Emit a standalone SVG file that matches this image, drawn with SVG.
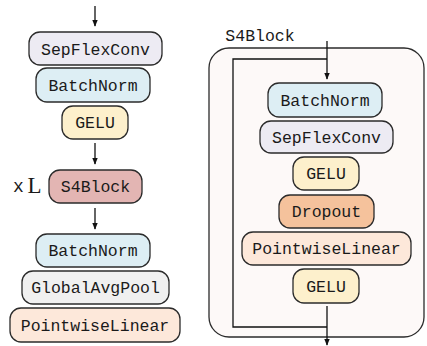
<svg xmlns="http://www.w3.org/2000/svg" width="427" height="346" viewBox="0 0 427 346">
<style>
.n rect{stroke:#2b2b2b;stroke-width:1.3}
text{font-family:"Liberation Mono","DejaVu Sans Mono",monospace;font-size:16.5px;fill:#1a1a1a;text-anchor:middle}
.c{fill:none;stroke:#111;stroke-width:1.3}
.sep{fill:#EDEBF3}.bn{fill:#DDEEF4}.gelu{fill:#FDF0CC}.s4{fill:#E3B5B3}.gap{fill:#F0F0F0}.pl{fill:#FDE8DA}.drop{fill:#F5C29C}
</style>
<defs>
<marker id="ah" viewBox="0 0 10 10" refX="9" refY="5" markerWidth="7" markerHeight="7" orient="auto" markerUnits="userSpaceOnUse">
<path d="M0,1 L10,5 L0,9 Z" fill="#111"/>
</marker>
</defs>
<g id="s4block-container">
<rect x="209" y="48" width="215" height="289" rx="20" fill="#FDF9F8" stroke="#2b2b2b" stroke-width="1.3"/>
<text x="260" y="41">S4Block</text>
</g>
<g id="connectors">
<line class="c" x1="95" y1="6" x2="95" y2="26" marker-end="url(#ah)"/>
<line class="c" x1="95" y1="143" x2="95" y2="164" marker-end="url(#ah)"/>
<line class="c" x1="95" y1="208" x2="95" y2="229" marker-end="url(#ah)"/>
<line class="c" x1="327" y1="41" x2="327" y2="79" marker-end="url(#ah)"/>
<polyline class="c" points="327,59 233,59 233,327 327,327"/>
<line class="c" x1="327" y1="306" x2="327" y2="345" marker-end="url(#ah)"/>
</g>
<g id="n-sepflexconv" class="n"><rect class="sep" x="29" y="32" width="133" height="33" rx="11"/><text x="95.5" y="54.5">SepFlexConv</text></g>
<g id="n-batchnorm1" class="n"><rect class="bn" x="36" y="68" width="114" height="34" rx="11"/><text x="93" y="90.5">BatchNorm</text></g>
<g id="n-gelu1" class="n"><rect class="gelu" x="62" y="106" width="66" height="33" rx="11"/><text x="95" y="128">GELU</text></g>
<g id="n-s4block" class="n"><rect class="s4" x="49" y="170" width="93" height="33" rx="11"/><text x="95.5" y="192">S4Block</text></g>
<g id="label-xL"><text x="18.5" y="192" style="font-size:18px">x</text><text x="34.5" y="193" style="font-family:'Liberation Serif','DejaVu Serif',serif;font-size:23px">L</text></g>
<g id="n-batchnorm2" class="n"><rect class="bn" x="36" y="234" width="114" height="33" rx="11"/><text x="93" y="256">BatchNorm</text></g>
<g id="n-globalavgpool" class="n"><rect class="gap" x="22" y="271" width="147" height="33" rx="11"/><text x="95.5" y="293">GlobalAvgPool</text></g>
<g id="n-pointwiselinear1" class="n"><rect class="pl" x="10" y="308" width="170" height="34" rx="11"/><text x="95" y="330.5">PointwiseLinear</text></g>
<g id="n-batchnorm3" class="n"><rect class="bn" x="268" y="83" width="114" height="34" rx="11"/><text x="325" y="105.5">BatchNorm</text></g>
<g id="n-sepflexconv2" class="n"><rect class="sep" x="260" y="121" width="133" height="32" rx="11"/><text x="326.5" y="142.5">SepFlexConv</text></g>
<g id="n-gelu2" class="n"><rect class="gelu" x="293" y="157" width="66" height="33" rx="11"/><text x="326" y="179">GELU</text></g>
<g id="n-dropout" class="n"><rect class="drop" x="279" y="195" width="95" height="33" rx="11"/><text x="326.5" y="217">Dropout</text></g>
<g id="n-pointwiselinear2" class="n"><rect class="pl" x="242" y="232" width="169" height="33" rx="11"/><text x="326.5" y="254">PointwiseLinear</text></g>
<g id="n-gelu3" class="n"><rect class="gelu" x="293" y="269" width="66" height="34" rx="11"/><text x="326" y="291.5">GELU</text></g>
</svg>
